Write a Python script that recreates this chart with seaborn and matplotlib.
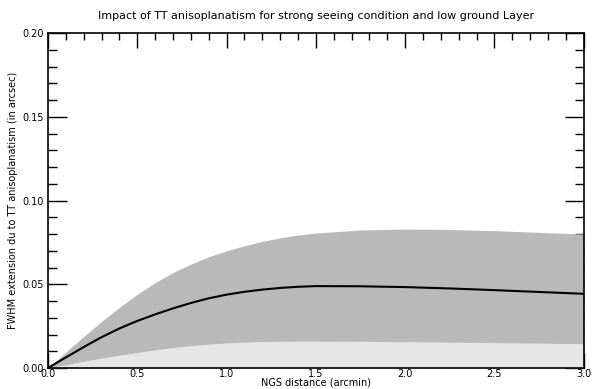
import numpy as np
import pandas as pd
import matplotlib
matplotlib.use("Agg")
import matplotlib.pyplot as plt
import seaborn as sns
from matplotlib.ticker import MultipleLocator, FormatStrFormatter

# NGS distance (arcmin)
distance = [0.0, 0.1, 0.2, 0.3, 0.4, 0.5, 0.6, 0.7, 0.8, 0.9, 1.0, 1.1, 1.2,
            1.3, 1.4, 1.5, 1.75, 2.0, 2.25, 2.5, 2.75, 3.0]
# mean FWHM extension (arcsec)
fwhm_mean = [0.0, 0.0063, 0.0125, 0.0184, 0.0236, 0.0281, 0.0320, 0.0356,
             0.0388, 0.0416, 0.0438, 0.0455, 0.0468, 0.0478, 0.0485, 0.0489,
             0.0488, 0.0483, 0.0475, 0.0465, 0.0454, 0.0443]
# upper envelope of the seeing/profile cases
fwhm_upper = [0.0, 0.0095, 0.0188, 0.0278, 0.0362, 0.0440, 0.0510, 0.0570,
              0.0620, 0.0664, 0.0700, 0.0730, 0.0756, 0.0777, 0.0794, 0.0806,
              0.0824, 0.0830, 0.0827, 0.0820, 0.0810, 0.0800]
# lower envelope of the seeing/profile cases
fwhm_lower = [0.0, 0.0020, 0.0040, 0.0058, 0.0076, 0.0092, 0.0108, 0.0122,
              0.0133, 0.0142, 0.0149, 0.0154, 0.0157, 0.0159, 0.0160, 0.0160,
              0.0159, 0.0157, 0.0154, 0.0151, 0.0148, 0.0145]

df = pd.DataFrame({"distance": distance, "mean": fwhm_mean,
                   "upper": fwhm_upper, "lower": fwhm_lower})

sns.set_style("white")
plt.rcParams["font.family"] = ["DejaVu Sans"]
plt.rcParams["text.color"] = "black"
plt.rcParams["axes.labelcolor"] = "black"
plt.rcParams["xtick.color"] = "black"
plt.rcParams["ytick.color"] = "black"

fig = plt.figure(figsize=(5.92, 3.89), dpi=100)
ax = fig.add_axes([0.081, 0.054, 0.905, 0.861])

# range of all cases: light band under the low envelope, grey band above it
ax.fill_between(df["distance"], 0, df["lower"], color="#e6e6e6", lw=0)
ax.fill_between(df["distance"], df["lower"], df["upper"], color="#b9b9b9", lw=0)

sns.lineplot(data=df, x="distance", y="mean", ax=ax, color="black", lw=1.5)

ax.set_xlim(0, 3.0)
ax.set_ylim(0, 0.20)
ax.xaxis.set_major_locator(MultipleLocator(0.5))
ax.xaxis.set_minor_locator(MultipleLocator(0.1))
ax.yaxis.set_major_locator(MultipleLocator(0.05))
ax.yaxis.set_minor_locator(MultipleLocator(0.01))
ax.xaxis.set_major_formatter(FormatStrFormatter("%.1f"))
ax.yaxis.set_major_formatter(FormatStrFormatter("%.2f"))

ax.tick_params(axis="both", which="both", direction="in", top=True, right=True,
               bottom=True, left=True, color="black", labelcolor="black",
               labelsize=7)
ax.tick_params(axis="x", which="major", length=11, width=1, pad=1)
ax.tick_params(axis="x", which="minor", length=5, width=1)
ax.tick_params(axis="y", which="major", length=13.5, width=1, pad=3)
ax.tick_params(axis="y", which="minor", length=6.5, width=1)

for sp in ax.spines.values():
    sp.set_color("black")
    sp.set_linewidth(1.2)

ax.set_xlabel("NGS distance (arcmin)", fontsize=7, labelpad=-1)
ax.set_ylabel("FWHM extension du to TT anisoplanatism (in arcsec)", fontsize=7,
              labelpad=3)
ax.set_title("Impact of TT anisoplanatism for strong seeing condition and low ground Layer",
             fontsize=8, pad=10)

fig.savefig("out.png", dpi=100)
